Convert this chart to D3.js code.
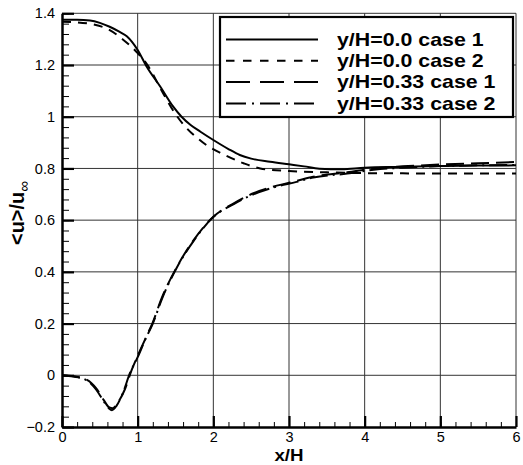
<!DOCTYPE html>
<html lang="en">
<head>
<meta charset="utf-8">
<title>u profile</title>
<script src="https://cdnjs.cloudflare.com/ajax/libs/d3/7.8.5/d3.min.js"></script>
<style>
  body { margin: 0; background: #fff; }
  text { font-family: "Liberation Sans", Arial, sans-serif; }
</style>
</head>
<body>
<script>
var w = 523, h = 465;

// data
var xTicks = [0, 1, 2, 3, 4, 5, 6];
var yTicks = [-0.2, 0, 0.2, 0.4, 0.6, 0.8, 1, 1.2, 1.4];
var legendNames = ["y/H=0.0 case 1", "y/H=0.0 case 2", "y/H=0.33 case 1", "y/H=0.33 case 2"];

var s1X = [0,0.2,0.37,0.5,0.63,0.75,0.86,1.0,1.12,1.3,1.47,1.58,1.7,1.83,2.0,2.2,2.35,2.5,2.75,3.0,3.2,3.4,3.7,4.0,4.5,5.0,5.5,6.0];
var s1Y = [1.375,1.375,1.372,1.363,1.348,1.33,1.31,1.258,1.193,1.116,1.039,1.0,0.968,0.942,0.91,0.875,0.852,0.838,0.826,0.816,0.808,0.799,0.797,0.803,0.806,0.809,0.811,0.812];

var s2X = [0,0.2,0.41,0.6,0.8,1.0,1.13,1.3,1.5,1.65,1.8,1.91,2.13,2.4,2.62,3.0,3.5,4.0,4.5,5.0,5.5,6.0];
var s2Y = [1.367,1.365,1.357,1.34,1.30,1.246,1.2,1.11,1.01,0.955,0.915,0.89,0.855,0.82,0.80,0.79,0.785,0.782,0.781,0.78,0.78,0.78];

var s3X = [0,0.15,0.33,0.45,0.55,0.62,0.67,0.74,0.83,0.92,1.0,1.1,1.2,1.32,1.52,1.74,2.0,2.27,2.53,2.8,3.1,3.32,3.77,4.12,4.5,5.0,5.5,6.0];
var s3Y = [0.0,-0.005,-0.018,-0.05,-0.095,-0.123,-0.127,-0.105,-0.055,0.02,0.075,0.14,0.205,0.3,0.42,0.523,0.613,0.665,0.704,0.73,0.752,0.768,0.785,0.80,0.808,0.815,0.82,0.825];

var s4X = [0,0.15,0.33,0.45,0.55,0.62,0.66,0.72,0.8,0.9,1.0,1.1,1.2,1.32,1.52,1.74,2.0,2.27,2.53,2.8,3.1,3.32,3.77,4.12,4.5,5.0,5.5,6.0];
var s4Y = [0.0,-0.004,-0.02,-0.055,-0.1,-0.128,-0.135,-0.118,-0.072,0.01,0.07,0.138,0.2,0.295,0.418,0.52,0.612,0.662,0.7,0.727,0.748,0.765,0.78,0.795,0.803,0.809,0.812,0.813];

var series = [
  {x: s1X, y: s1Y, dash: null},
  {x: s2X, y: s2Y, dash: "9,7"},
  {x: s3X, y: s3Y, dash: "18,7"},
  {x: s4X, y: s4Y, dash: "18,5,2,5"}
];

// plot frame (pTop, not top: window.top is read-only)
var pLeft = 62, pRight = 516, pTop = 13.3, pBottom = 427;

var xScale = d3.scaleLinear().domain([0, 6]).range([pLeft, pRight]);
var yScale = d3.scaleLinear().domain([-0.2, 1.4]).range([pBottom, pTop]);

var svg = d3.select("body").append("svg")
    .attr("width", w).attr("height", h);

svg.append("rect").attr("width", w).attr("height", h).attr("fill", "#fff");

// grid lines
svg.append("g").selectAll("line").data(xTicks.slice(1)).enter().append("line")
    .attr("x1", function(d){ return xScale(d); })
    .attr("x2", function(d){ return xScale(d); })
    .attr("y1", pTop).attr("y2", pBottom)
    .attr("stroke", "#333").attr("stroke-width", 1);

svg.append("g").selectAll("line").data(yTicks.slice(1)).enter().append("line")
    .attr("x1", pLeft).attr("x2", pRight)
    .attr("y1", function(d){ return yScale(d); })
    .attr("y2", function(d){ return yScale(d); })
    .attr("stroke", "#333").attr("stroke-width", 1);

// minor ticks
var xMinor = d3.range(0, 6.001, 0.2);
var yMinor = d3.range(-0.2, 1.4001, 0.04);

svg.append("g")
    .attr("transform", "translate(0," + pBottom + ")")
    .call(d3.axisBottom(xScale).tickValues(xMinor).tickSizeInner(-5).tickSizeOuter(0).tickFormat(""))
    .call(function(g){ g.select(".domain").remove(); g.selectAll("line").attr("stroke-width", 1); });

svg.append("g")
    .attr("transform", "translate(" + pLeft + ",0)")
    .call(d3.axisLeft(yScale).tickValues(yMinor).tickSizeInner(-7).tickSizeOuter(0).tickFormat(""))
    .call(function(g){ g.select(".domain").remove(); g.selectAll("line").attr("stroke-width", 1); });

// major ticks with labels
var xAxis = svg.append("g")
    .attr("transform", "translate(0," + pBottom + ")")
    .call(d3.axisBottom(xScale).tickValues(xTicks).tickSizeInner(-11).tickSizeOuter(0).tickPadding(5).tickFormat(d3.format("d")));
xAxis.selectAll("line").attr("stroke-width", 2.2);
xAxis.select(".domain").attr("stroke-width", 2.5);
xAxis.selectAll("text").attr("font-size", "14.5px").attr("fill", "#000")
    .attr("font-family", "Liberation Sans, Arial, sans-serif");

var yAxis = svg.append("g")
    .attr("transform", "translate(" + pLeft + ",0)")
    .call(d3.axisLeft(yScale).tickValues(yTicks).tickSizeInner(-12).tickSizeOuter(0).tickPadding(7)
        .tickFormat(function(d){ return d3.format("~g")(d); }));
yAxis.selectAll("line").attr("stroke-width", 2.2);
yAxis.select(".domain").attr("stroke-width", 2.5);
yAxis.selectAll("text").attr("font-size", "14.5px").attr("fill", "#000")
    .attr("font-family", "Liberation Sans, Arial, sans-serif");

// curves
var line = d3.line()
    .x(function(d){ return xScale(d[0]); })
    .y(function(d){ return yScale(d[1]); })
    .curve(d3.curveMonotoneX);

series.forEach(function(s){
  svg.append("path")
      .datum(d3.zip(s.x, s.y))
      .attr("d", line)
      .attr("fill", "none")
      .attr("stroke", "#000")
      .attr("stroke-width", 2)
      .attr("stroke-dasharray", s.dash);
});

// legend
var legend = svg.append("g");
legend.append("rect")
    .attr("x", 220).attr("y", 17).attr("width", 293).attr("height", 100)
    .attr("fill", "#fff").attr("stroke", "#000").attr("stroke-width", 2.2);

legendNames.forEach(function(name, i){
  var yy = 39.5 + i * 21.3;
  legend.append("line")
      .attr("x1", 226).attr("x2", 318).attr("y1", yy).attr("y2", yy)
      .attr("stroke", "#000").attr("stroke-width", 2)
      .attr("stroke-dasharray", i === 1 ? "8.5,8.5" : i === 2 ? "24,10" : i === 3 ? "20,6,2,6" : null);
  legend.append("text")
      .attr("transform", "translate(337," + (yy + 6.3) + ") scale(1.22,1)")
      .attr("font-size", "17.5px").attr("font-weight", "bold")
      .text(name);
});

// axis titles
svg.append("text")
    .attr("transform", "translate(" + ((pLeft + pRight) / 2) + ",461) scale(1.1,1)")
    .attr("text-anchor", "middle")
    .attr("font-size", "17px").attr("font-weight", "bold")
    .text("x/H");

var yt = svg.append("text")
    .attr("transform", "translate(24,213) rotate(-90)")
    .attr("text-anchor", "middle")
    .attr("font-size", "20px").attr("font-weight", "bold");
yt.append("tspan").text("<u>/u");
yt.append("tspan").attr("font-size", "15px").attr("font-weight", "normal").attr("dy", 5).text("\u221e");
</script>
</body>
</html>
